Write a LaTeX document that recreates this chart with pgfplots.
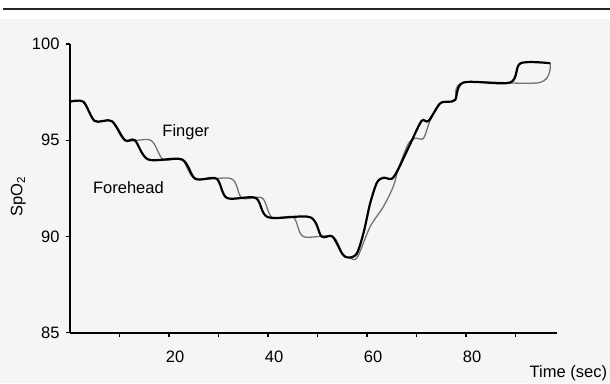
\documentclass[border=0pt]{standalone}
\usepackage{pgfplots}
\pgfplotsset{compat=1.18}
\usepackage{fontspec}
\setmainfont{Liberation Sans}
\begin{document}
\fontsize{16}{19}\selectfont
\begin{tikzpicture}
\useasboundingbox (0,0) rectangle (610pt,383pt);
\fill[black!4] (0,0) rectangle (610pt,364pt);
\draw[line width=2pt, black!85] (3pt,373.5pt) -- (610pt,373.5pt);
\begin{axis}[
  at={(70pt,50.3pt)}, anchor=south west,
  scale only axis, width=486.7pt, height=288.7pt,
  xmin=0, xmax=98.3, ymin=85, ymax=100,
  axis lines*=left,
  axis line style={line width=1.7pt},
  xtick={10,20,...,90}, xticklabels={,20,,40,,60,,80,},
  ytick={85,90,95,100},
  tick align=outside, major tick length=4pt,
  tick style={line width=1.4pt, black},
  /pgf/number format/assume math mode=true,
  ticklabel style={font=\fontsize{16.5}{19}\selectfont},
  xticklabel style={yshift=-9pt, xshift=6pt},
  yticklabel style={xshift=-1pt},
  xlabel={Time (sec)},
  xlabel style={at={(axis description cs:1.024,-0.1396)}, anchor=center, font=\fontsize{16.5}{19}\selectfont},
  ylabel={SpO\textsubscript{2}},
  ylabel style={at={(axis description cs:-0.106,0.471)}, anchor=center, font=\fontsize{16.5}{19}\selectfont},
  clip=false,
]
% Finger (gray)
\addplot[black!55, line width=1.3pt, smooth, tension=0.5] coordinates {
(0,97) (2.7,97) (5.0,96) (8.4,96) (11.1,95) (16.3,95) (18.8,94) (22.6,94)
(25.3,93) (32.6,93) (34.7,92) (38.8,92) (40.8,91) (45.1,91) (47.1,90)
(53.0,90) (55.0,89.1) (56.5,88.9) (58.0,88.9) (60.6,90.5) (63.3,91.55)
(65.3,92.6) (66.3,93.5) (68.3,94.8) (69.7,95.1) (71.4,95.1) (72.7,96.0)
(74.7,96.9) (76.4,97.0) (77.8,97.1) (79.5,98.0) (94.9,98.0) (97.0,99.0)
};
% Forehead (black)
\addplot[black, line width=2.2pt, smooth, tension=0.5] coordinates {
(0,97) (2.7,97) (5.0,96) (8.4,96) (11.1,95) (13.1,95) (15.8,94) (22.6,94)
(25.3,93) (29.6,93) (31.7,92) (37.5,92) (40.0,91) (48.5,91) (50.8,90)
(53.0,90) (55.0,89.1) (56.2,88.9) (57.9,89.1) (59.3,90.2) (60.6,91.7)
(62.0,92.8) (63.3,93.05) (65.0,93.0) (66.3,93.5) (68.7,94.8) (71.0,96.0)
(72.4,96.0) (74.7,96.9) (76.4,97.0) (77.8,97.1) (79.5,98.0) (88.9,98.0)
(91.0,99.0) (97.0,99.0)
};
\node[font=\fontsize{16.5}{19}\selectfont] at (axis cs:23.4,95.43) {Finger};
\node[font=\fontsize{16.5}{19}\selectfont] at (axis cs:11.8,92.56) {Forehead};
\end{axis}
\end{tikzpicture}
\end{document}
